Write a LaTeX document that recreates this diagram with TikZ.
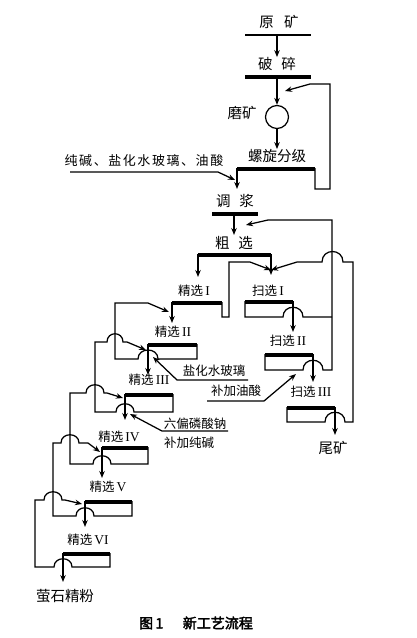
\documentclass[tikz,border=0pt]{standalone}
\usepackage{fontspec}
\newfontfamily\zh{Noto Sans CJK SC}
\newfontfamily\zhbf[FakeBold=2.5]{Noto Sans CJK SC}
\newfontfamily\rn{Liberation Serif}
\newcommand\nr[1]{{\rn\fontsize{13.5}{13.5}\selectfont #1}}
\usetikzlibrary{arrows.meta,calc}

\begin{document}
\begin{tikzpicture}[x=1pt,y=-1pt,
  flow/.style={line width=1.25pt},
  arr/.style={flow,-{Stealth[length=7pt,width=5.5pt]}},
  bar/.style={line width=3pt,postaction={draw,line width=0.9pt,transform canvas={yshift=-2.9pt}}},
  lab/.style={font=\zh\fontsize{12.5}{12.5}\selectfont,inner sep=0pt},
  big/.style={font=\zh\fontsize{14.5}{14.5}\selectfont,inner sep=0pt}]

\useasboundingbox (0,0) rectangle (417,638);

% crushing and grinding
\node[big] (ore) at (279,22) {原\hspace{.7em}矿};
\coordinate (oreL) at (245,35);
\coordinate (oreR) at (311,35);
\draw[flow] (oreL) -- (oreR);
\node[big] (crush) at (277,64) {破\hspace{.6em}碎};
\draw[arr] (crush |- oreL) -- (crush.north);
\coordinate (crL) at (245,76);
\coordinate (crR) at (311,76);
\draw[bar] (crL) -- (crR);
\node[draw,flow,circle,minimum size=23pt,inner sep=0pt] (mill) at (277,117) {};
\node[big] (millLab) at (242,113) {磨矿};
\draw[arr] (crush |- crL) -- (mill.north);
\node[big] (cls) at (277,156) {螺旋分级};
\draw[arr] (mill.south) -- (cls.north);
\coordinate (clsL) at (237,168);
\coordinate (clsR) at (315,168);
\draw[bar] (clsL) -- (clsR);
\coordinate (millIn) at (285,91);
\draw[arr] (clsR) -- ++(0,21) -- ++(15,0) -- ++(0,-105) -- ++(-20,0) -- (millIn);

% reagents and conditioning
\node[lab,font=\zh\fontsize{13}{13}\selectfont\addfontfeatures{LetterSpace=12}] (reag) at (144,161) {纯碱、盐化水玻璃、油酸};
\coordinate (reagL) at (70,172);
\coordinate (reagIn) at (235,180);
\draw[arr] (reagL) -- ++(148,0) -- (reagIn);
\node[big] (cond) at (235,201) {调\hspace{.6em}浆};
\draw[arr] (clsL) -- ++(0,21);
\coordinate (cdL) at (212,213);
\coordinate (cdR) at (258,213);
\draw[bar] (cdL) -- (cdR);
\node[big] (rough) at (234,243) {粗\hspace{.6em}选};
\draw[arr] (rough |- cdL) -- ++(0,22);
\coordinate (roL) at (198,254);
\coordinate (roR) at (271,254);
\draw[bar] (roL) -- (roR);

% rougher products
\node[lab] (c1) at (194,291) {精选\,\nr{I}};
\node[lab] (s1) at (268,291) {扫选\,\nr{I}};
\draw[arr] (roL) -- ++(0,23);
\draw[arr] (roR) -- ++(0,21);
\coordinate (c1L) at (172,302);
\coordinate (c1R) at (222,302);
\draw[bar] (c1L) -- (c1R);
\draw[arr] (c1L) -- ++(0,21);
\coordinate (s1In) at (271,270);
\draw[arr] (c1R) -- ++(0,15) -- ++(7,0) -- ++(0,-55) -- ++(21,0) -- (s1In);

% scavengers
\coordinate (s1L) at (245,301);
\coordinate (s1R) at (293,301);
\draw[bar] (s1L) -- (s1R);
\draw[arr] (s1R) -- ++(0,31);
\draw[flow] (s1L) -- ++(0,16) -- ++(38,0) .. controls +(0,-13) and +(0,-13) .. ++(20,0) -- ++(29,0);

\node[lab] (s2) at (288,341) {扫选\,\nr{II}};
\coordinate (s2L) at (265,354);
\coordinate (s2R) at (313,354);
\draw[bar] (s2L) -- (s2R);
\draw[arr] (s2R) -- ++(0,28);
\coordinate (roIn) at (246,225);
\draw[arr] (s2L) -- ++(0,16) -- ++(38,0) .. controls +(0,-13) and +(0,-13) .. ++(20,0) -- ++(9,0) -- ++(0,-150) -- ++(-64,0) -- (roIn);

\node[lab] (s3) at (311,392) {扫选\,\nr{III}};
\coordinate (s3L) at (287,407);
\coordinate (s3R) at (335,407);
\draw[bar] (s3L) -- (s3R);
\draw[arr] (s3R) -- ++(0,28);
\node[big] (tail) at (333,448) {尾矿};
\draw[arr] (s3L) -- ++(0,15) -- ++(38,0) .. controls +(0,-13) and +(0,-13) .. ++(20,0) -- ++(8,0) -- ++(0,-160) -- ++(-10,0) .. controls +(0,-14) and +(0,-14) .. ++(-21,0) -- ++(-25,0) -- (s1In);

\node[lab] (oa) at (236,391) {补加油酸};
\coordinate (oaL) at (207,401);
\coordinate (oaIn) at (296,374);
\draw[arr] (oaL) -- ++(57,0) -- (oaIn);

% cleaners
\node[lab] (c2) at (173,332) {精选\,\nr{II}};
\coordinate (c2L) at (148,344);
\coordinate (c2R) at (197,344);
\draw[bar] (c2L) -- (c2R);
\draw[arr] (c2L) -- ++(0,31);
\coordinate (c1Back) at (169,312);
\draw[arr] (c2R) -- ++(0,15) -- ++(-39,0) .. controls +(0,-12) and +(0,-12) .. ++(-20,0) -- ++(-23,0) -- ++(0,-56) -- ++(33,0) -- (c1Back);

\node[lab] (sg) at (214,371) {盐化水玻璃};
\coordinate (sgR) at (248,380);
\coordinate (sgIn) at (153,357);
\draw[arr] (sgR) -- ++(-71,0) -- (sgIn);

\node[lab] (c3) at (149,380) {精选\,\nr{III}};
\coordinate (c3L) at (125,394);
\coordinate (c3R) at (173,394);
\draw[bar] (c3L) -- (c3R);
\draw[arr] (c3L) -- ++(0,26);
\coordinate (c2In) at (146,350);
\draw[arr] (c3R) -- ++(0,18) -- ++(-39,0) .. controls +(0,-11) and +(0,-11) .. ++(-18,0) -- ++(-21,0) -- ++(0,-70) -- ++(12,0) .. controls +(0,-11) and +(0,-11) .. ++(16,0) -- ++(4,0) -- (c2In);

\node[lab] (sp) at (195,424) {六偏磷酸钠};
\node[lab] (sa) at (189,443) {补加纯碱};
\coordinate (spR) at (228,431);
\coordinate (spIn) at (130,414);
\draw[arr] (spR) -- ++(-66,0) -- (spIn);

\node[lab] (c4) at (119,437) {精选\,\nr{IV}};
\coordinate (c4L) at (102,447);
\coordinate (c4R) at (148,447);
\draw[bar] (c4L) -- (c4R);
\draw[arr] (c4L) -- ++(0,31);
\coordinate (c3In) at (123,398);
\draw[arr] (c4R) -- ++(0,17) -- ++(-37,0) .. controls +(0,-11) and +(0,-11) .. ++(-18,0) -- ++(-23,0) -- ++(0,-71) -- ++(16,0) .. controls +(0,-11) and +(0,-11) .. ++(18,0) -- ++(3,0) -- (c3In);

\node[lab] (c5) at (108,487) {精选\,\nr{V}};
\coordinate (c5L) at (85,501);
\coordinate (c5R) at (132,501);
\draw[bar] (c5L) -- (c5R);
\draw[arr] (c5L) -- ++(0,26);
\coordinate (c4In) at (100,452);
\draw[arr] (c5R) -- ++(0,15) -- ++(-38,0) .. controls +(0,-11) and +(0,-11) .. ++(-18,0) -- ++(-23,0) -- ++(0,-73) -- ++(8,0) .. controls +(0,-11) and +(0,-11) .. ++(18,0) -- ++(9,0) -- (c4In);

\node[lab] (c6) at (88,540) {精选\,\nr{VI}};
\coordinate (c6L) at (63,553);
\coordinate (c6R) at (110,553);
\draw[bar] (c6L) -- (c6R);
\draw[arr] (c6L) -- ++(0,29);
\coordinate (c5In) at (82,504);
\draw[arr] (c6R) -- ++(0,14) -- ++(-38,0) .. controls +(0,-11) and +(0,-11) .. ++(-18,0) -- ++(-19,0) -- ++(0,-67) -- ++(9,0) .. controls +(0,-11) and +(0,-11) .. ++(18,0) -- ++(3,0) -- (c5In);
\node[big] (prod) at (65,596) {萤石精粉};

% caption
\node[font=\zhbf\fontsize{14}{14}\selectfont,inner sep=0pt] (cap) at (196,623) {图\,1\hspace{1.4em}新工艺流程};

\end{tikzpicture}
\end{document}
